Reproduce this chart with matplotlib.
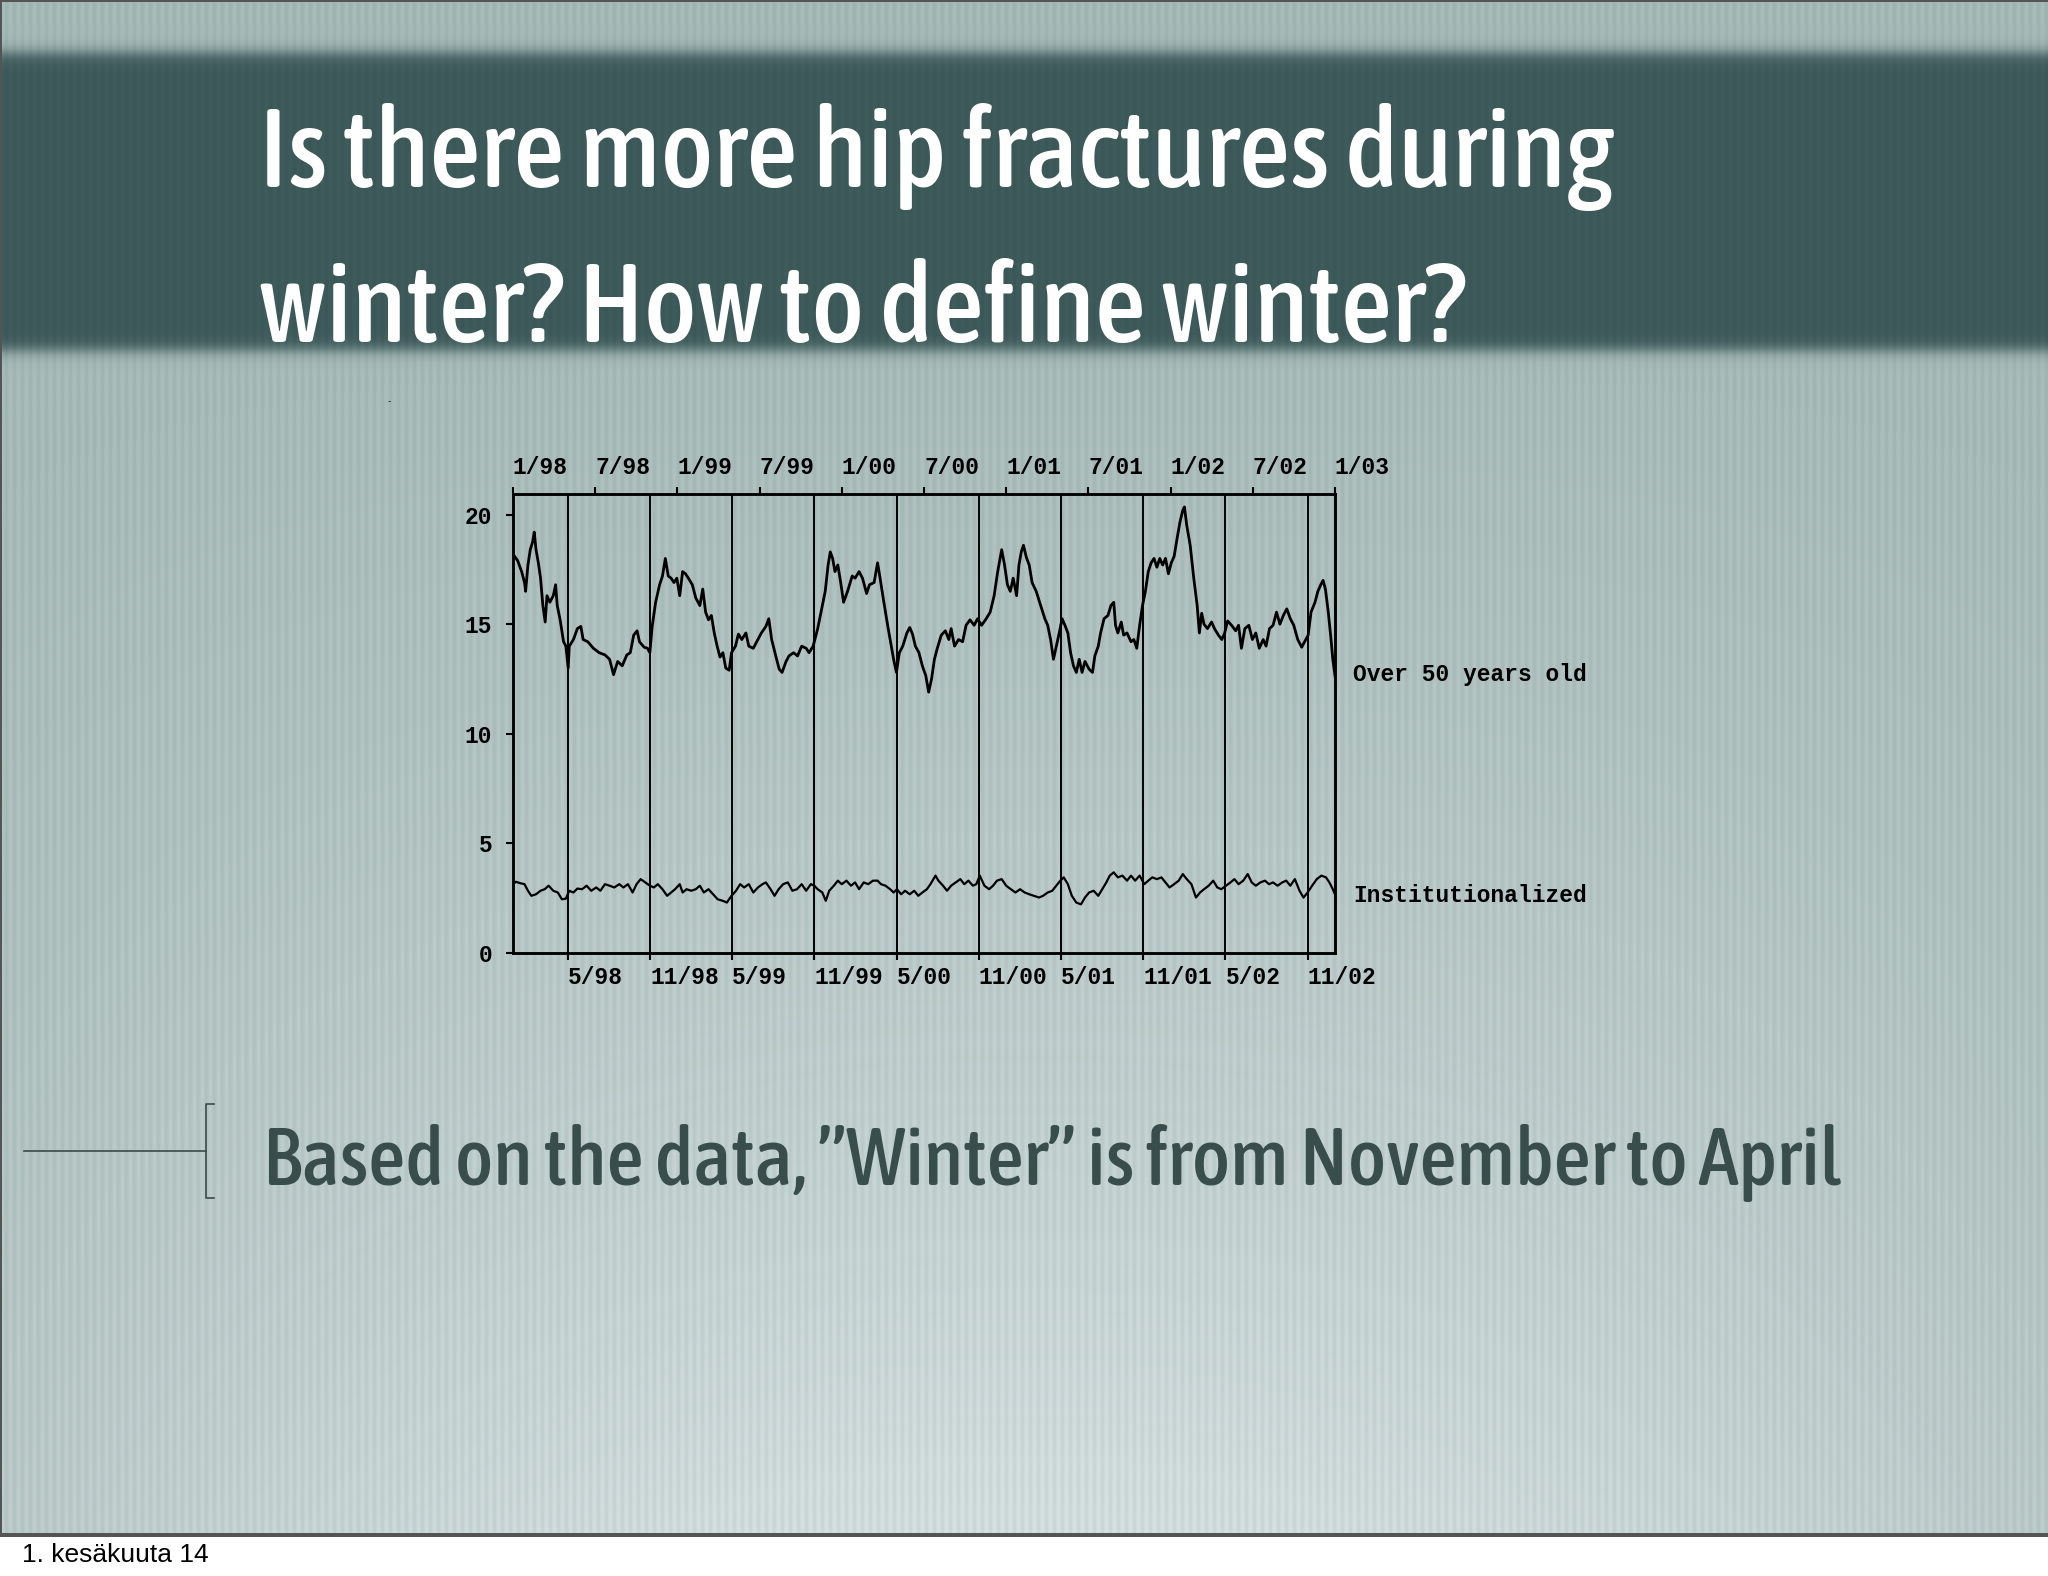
import numpy as np
import matplotlib
matplotlib.use("Agg")
import matplotlib.pyplot as plt
from matplotlib import font_manager as fm

# months counted from 1/98, daily rate of hip fractures
over50_month = [
    0.00, 0.34, 0.63, 0.84, 0.92, 1.09, 1.26, 1.43, 1.55, 1.68,
    1.85, 2.01, 2.18, 2.35, 2.48, 2.69, 2.94, 3.11, 3.23, 3.44,
    3.69, 3.86, 4.03, 4.11, 4.41, 4.70, 4.95, 5.12, 5.46, 5.87,
    6.29, 6.71, 7.05, 7.34, 7.64, 7.97, 8.31, 8.56, 8.81, 9.06,
    9.23, 9.57, 9.82, 9.99, 10.16, 10.41, 10.70, 10.91, 11.12, 11.33,
    11.54, 11.75, 11.96, 12.17, 12.38, 12.59, 12.80, 13.09, 13.34, 13.64,
    13.85, 14.06, 14.27, 14.48, 14.69, 14.90, 15.11, 15.32, 15.53, 15.78,
    15.95, 16.24, 16.45, 16.70, 17.00, 17.21, 17.54, 17.83, 18.13, 18.46,
    18.67, 18.88, 19.14, 19.43, 19.64, 19.93, 20.14, 20.48, 20.77, 21.07,
    21.40, 21.61, 21.91, 22.24, 22.58, 22.79, 23.00, 23.16, 23.33, 23.50,
    23.71, 23.92, 24.13, 24.42, 24.76, 24.97, 25.26, 25.51, 25.81, 26.02,
    26.36, 26.61, 26.77, 27.07, 27.36, 27.61, 27.78, 27.99, 28.20, 28.45,
    28.75, 28.96, 29.16, 29.37, 29.63, 29.88, 30.13, 30.34, 30.55, 30.76,
    30.97, 31.26, 31.56, 31.81, 31.98, 32.23, 32.52, 32.82, 33.07, 33.36,
    33.66, 33.91, 34.20, 34.49, 34.83, 35.12, 35.38, 35.67, 35.88, 36.09,
    36.30, 36.51, 36.76, 36.93, 37.10, 37.26, 37.47, 37.68, 37.89, 38.19,
    38.52, 38.82, 39.03, 39.24, 39.45, 39.66, 39.87, 40.08, 40.29, 40.50,
    40.70, 40.91, 41.12, 41.33, 41.54, 41.75, 42.05, 42.30, 42.47, 42.72,
    42.89, 43.14, 43.43, 43.64, 43.85, 43.98, 44.15, 44.40, 44.57, 44.82,
    45.11, 45.32, 45.53, 45.74, 45.95, 46.16, 46.37, 46.58, 46.79, 47.00,
    47.21, 47.42, 47.63, 47.84, 48.05, 48.26, 48.47, 48.68, 48.89, 49.01,
    49.18, 49.43, 49.69, 49.94, 50.10, 50.27, 50.44, 50.69, 50.99, 51.20,
    51.49, 51.74, 51.95, 52.16, 52.45, 52.75, 52.96, 53.17, 53.42, 53.71,
    53.97, 54.22, 54.47, 54.76, 54.97, 55.22, 55.48, 55.73, 55.98, 56.23,
    56.48, 56.74, 56.99, 57.28, 57.57, 57.78, 58.04, 58.25, 58.54, 58.75,
    58.96, 59.13, 59.30, 59.51, 59.68, 59.84, 60.00]
over50_rate = [
    18.2, 17.9, 17.4, 16.9, 16.5, 17.7, 18.4, 18.75, 19.2, 18.4,
    17.8, 17.1, 15.85, 15.1, 16.3, 16.0, 16.3, 16.8, 15.85, 15.2,
    14.2, 14.0, 13.0, 14.0, 14.3, 14.8, 14.9, 14.3, 14.2, 13.9,
    13.7, 13.6, 13.4, 12.7, 13.3, 13.1, 13.6, 13.7, 14.5, 14.7,
    14.2, 13.95, 13.9, 13.7, 14.9, 16.0, 16.8, 17.2, 18.0, 17.2,
    17.1, 16.9, 17.1, 16.3, 17.4, 17.3, 17.1, 16.8, 16.2, 15.85,
    16.6, 15.55, 15.2, 15.4, 14.6, 14.0, 13.5, 13.7, 13.0, 12.9,
    13.7, 14.0, 14.55, 14.3, 14.6, 14.0, 13.9, 14.25, 14.6, 14.9,
    15.25, 14.3, 13.65, 12.95, 12.8, 13.3, 13.55, 13.7, 13.55, 14.0,
    13.9, 13.7, 14.0, 14.8, 15.85, 16.5, 17.7, 18.3, 18.0, 17.4,
    17.7, 16.9, 16.0, 16.5, 17.2, 17.1, 17.4, 17.1, 16.4, 16.8,
    16.9, 17.8, 17.2, 16.0, 14.9, 14.0, 13.4, 12.8, 13.7, 14.0,
    14.6, 14.85, 14.55, 14.0, 13.7, 13.1, 12.65, 11.9, 12.5, 13.4,
    13.9, 14.5, 14.7, 14.3, 14.8, 14.0, 14.3, 14.2, 14.95, 15.2,
    14.95, 15.25, 14.95, 15.2, 15.55, 16.3, 17.4, 18.4, 17.7, 16.8,
    16.5, 17.1, 16.3, 17.7, 18.3, 18.6, 18.05, 17.7, 16.9, 16.5,
    15.85, 15.25, 14.95, 14.3, 13.4, 14.0, 14.6, 15.25, 14.95, 14.6,
    13.7, 13.1, 12.8, 13.4, 12.8, 13.3, 12.95, 12.8, 13.55, 14.0,
    14.6, 15.25, 15.4, 15.85, 16.0, 14.95, 14.6, 15.1, 14.5, 14.6,
    14.2, 14.3, 13.9, 14.95, 15.85, 16.5, 17.4, 17.8, 18.0, 17.6,
    18.0, 17.7, 18.0, 17.3, 17.8, 18.1, 18.9, 19.65, 20.2, 20.35,
    19.5, 18.6, 17.1, 15.85, 14.6, 15.5, 15.0, 14.8, 15.1, 14.8,
    14.5, 14.3, 14.6, 15.15, 14.95, 14.7, 14.95, 13.9, 14.8, 14.95,
    14.3, 14.6, 13.9, 14.3, 14.0, 14.8, 14.95, 15.55, 15.0, 15.4,
    15.7, 15.25, 14.95, 14.3, 13.95, 14.2, 14.5, 15.55, 16.0, 16.5,
    16.8, 17.0, 16.6, 15.55, 14.5, 13.4, 12.65]

inst_month = [
    0.00, 0.21, 0.50, 0.84, 1.09, 1.34, 1.68, 2.01, 2.31, 2.60,
    2.94, 3.27, 3.57, 3.86, 4.11, 4.41, 4.70, 5.04, 5.37, 5.71,
    6.08, 6.38, 6.71, 7.05, 7.39, 7.76, 8.06, 8.39, 8.73, 9.02,
    9.32, 9.65, 9.99, 10.28, 10.57, 10.91, 11.25, 11.54, 11.83, 12.17,
    12.38, 12.67, 13.01, 13.34, 13.64, 13.93, 14.27, 14.60, 14.94, 15.32,
    15.61, 15.95, 16.28, 16.58, 16.87, 17.21, 17.54, 17.88, 18.21, 18.46,
    18.80, 19.09, 19.39, 19.72, 20.06, 20.39, 20.73, 21.07, 21.40, 21.74,
    21.99, 22.24, 22.58, 22.83, 23.08, 23.42, 23.71, 24.00, 24.34, 24.67,
    24.97, 25.26, 25.60, 25.93, 26.27, 26.61, 26.86, 27.19, 27.53, 27.78,
    28.03, 28.33, 28.62, 28.96, 29.29, 29.58, 29.88, 30.21, 30.47, 30.84,
    31.05, 31.39, 31.68, 31.98, 32.31, 32.65, 32.94, 33.24, 33.57, 33.82,
    34.07, 34.41, 34.75, 35.04, 35.33, 35.67, 36.00, 36.34, 36.68, 37.01,
    37.35, 37.68, 38.02, 38.40, 38.69, 39.03, 39.36, 39.66, 39.95, 40.20,
    40.50, 40.79, 41.12, 41.46, 41.75, 42.05, 42.38, 42.72, 43.01, 43.31,
    43.56, 43.85, 44.15, 44.48, 44.82, 45.11, 45.41, 45.74, 46.08, 46.37,
    46.66, 47.00, 47.33, 47.63, 47.92, 48.26, 48.59, 48.89, 49.18, 49.52,
    49.85, 50.15, 50.44, 50.78, 51.11, 51.41, 51.70, 52.04, 52.37, 52.66,
    52.96, 53.30, 53.63, 53.92, 54.22, 54.55, 54.89, 55.18, 55.48, 55.81,
    56.15, 56.44, 56.74, 57.07, 57.41, 57.70, 58.00, 58.33, 58.67, 59.01,
    59.34, 59.59, 59.84, 60.00]
inst_rate = [
    3.14, 3.25, 3.19, 3.14, 2.84, 2.61, 2.68, 2.84, 2.91, 3.07,
    2.84, 2.76, 2.45, 2.48, 2.84, 2.76, 2.94, 2.91, 3.07, 2.84,
    2.99, 2.84, 3.14, 3.07, 2.99, 3.14, 2.99, 3.14, 2.76, 3.14,
    3.37, 3.22, 3.07, 2.99, 3.14, 2.91, 2.61, 2.76, 2.91, 3.14,
    2.76, 2.91, 2.84, 2.91, 3.07, 2.76, 2.91, 2.68, 2.45, 2.38,
    2.30, 2.61, 2.84, 3.14, 2.99, 3.14, 2.76, 2.99, 3.14, 3.22,
    2.91, 2.61, 2.91, 3.14, 3.22, 2.84, 2.91, 3.14, 2.84, 3.14,
    3.07, 2.91, 2.76, 2.38, 2.84, 3.07, 3.30, 3.14, 3.30, 3.07,
    3.22, 2.91, 3.22, 3.14, 3.30, 3.30, 3.14, 3.07, 2.91, 2.76,
    2.91, 2.68, 2.84, 2.68, 2.84, 2.61, 2.76, 2.91, 3.14, 3.53,
    3.30, 3.07, 2.84, 3.07, 3.22, 3.37, 3.14, 3.30, 3.07, 3.14,
    3.53, 3.07, 2.91, 3.07, 3.30, 3.37, 3.07, 2.91, 2.76, 2.91,
    2.76, 2.68, 2.61, 2.53, 2.61, 2.76, 2.84, 3.07, 3.30, 3.45,
    3.14, 2.61, 2.30, 2.22, 2.53, 2.76, 2.84, 2.61, 2.91, 3.22,
    3.53, 3.68, 3.45, 3.53, 3.30, 3.53, 3.30, 3.53, 3.14, 3.30,
    3.45, 3.37, 3.45, 3.22, 2.99, 3.14, 3.30, 3.60, 3.37, 3.14,
    2.53, 2.76, 2.91, 3.07, 3.30, 2.99, 2.91, 3.07, 3.22, 3.37,
    3.14, 3.30, 3.60, 3.22, 3.07, 3.22, 3.30, 3.14, 3.22, 3.07,
    3.22, 3.30, 3.07, 3.37, 2.84, 2.53, 2.76, 3.07, 3.37, 3.53,
    3.45, 3.22, 2.91, 2.68]

top_ticks = [0, 6, 12, 18, 24, 30, 36, 42, 48, 54, 60]
top_labels = ["1/98", "7/98", "1/99", "7/99", "1/00", "7/00",
              "1/01", "7/01", "1/02", "7/02", "1/03"]
season_ticks = [4, 10, 16, 22, 28, 34, 40, 46, 52, 58]
season_labels = ["5/98", "11/98", "5/99", "11/99", "5/00",
                 "11/00", "5/01", "11/01", "5/02", "11/02"]
y_ticks = [0, 5, 10, 15, 20]

title_lines = ["Is there more hip fractures during", "winter? How to define winter?"]
bottom_text = "Based on the data, \u201dWinter\u201d is from November to April"
footer_text = "1. kes\u00e4kuuta 14"


def pick_condensed():
    # look for a narrow / condensed sans face among the installed fonts
    good = []
    for f in fm.fontManager.ttflist:
        nm = f.name.lower()
        narrow = ("narrow" in nm or "condensed" in nm or
                  str(f.stretch) in ("condensed", "semi-condensed", "extra-condensed", "ultra-condensed"))
        if not narrow or "mono" in nm or "serif" in nm and "sans" not in nm:
            continue
        if f.style != "normal":
            continue
        w = f.weight if isinstance(f.weight, int) else 400
        good.append((abs(w - 500), f.fname))
    if good:
        good.sort()
        return fm.FontProperties(fname=good[0][1])
    return fm.FontProperties(family="DejaVu Sans")


W, H = 2048, 1576
fig = plt.figure(figsize=(W / 100, H / 100), dpi=100)

# slide background: soft gradient, vertical stripes, dark title band
u = np.arange(W) / W
v = np.arange(H) / H
light = np.clip((v[:, None] - 0.12) / 0.88, 0, 1) ** 1.3 * (1 - 2.2 * (u[None, :] - 0.5) ** 2)
light = np.clip(light, 0, 1)
dark_c = np.array([0.64, 0.72, 0.71])
light_c = np.array([0.83, 0.87, 0.875])
img = dark_c + (light_c - dark_c) * light[..., None]
yy = np.arange(H)[:, None]
band = 1 / (1 + np.exp(-(yy - 52) / 4.0)) * 1 / (1 + np.exp((yy - 350) / 4.0))
band_c = np.array([0.24, 0.35, 0.35])
img = img * (1 - band[..., None]) + band_c * band[..., None]
stripes = 1 + 0.028 * np.sin(2 * np.pi * np.arange(W) / 8.0)
img = img * stripes[None, :, None]
img[1537:] = 1.0
img[1533:1537] = 0.33
img[:1537, 0:2] = 0.33
img[0:2] = 0.33
img = np.clip(img, 0, 1)

bg = fig.add_axes([0, 0, 1, 1])
bg.imshow(img, extent=(0, W, H, 0), aspect="auto", interpolation="nearest")
bg.set_xlim(0, W)
bg.set_ylim(H, 0)
bg.axis("off")

cond = pick_condensed()
t1 = bg.text(259, 187, title_lines[0], color="white", fontproperties=cond,
             va="baseline", ha="left")
t2 = bg.text(259, 342, title_lines[1], color="white", fontproperties=cond,
             va="baseline", ha="left")
t3 = bg.text(263, 1185, bottom_text, color="#3a4d4d", fontproperties=cond,
             va="baseline", ha="left")
for t in (t1, t2, t3):
    t.set_fontsize(80)

# scale the condensed texts to the widths on the slide
fig.canvas.draw()
r = fig.canvas.get_renderer()
s = 1357 / t1.get_window_extent(r).width
t1.set_fontsize(80 * s)
t2.set_fontsize(80 * s)
t3.set_fontsize(80 * 1580 / t3.get_window_extent(r).width)

# bracket decoration
bc = "#3b4b4b"
bg.plot([24, 206], [1151, 1151], color=bc, lw=1.2)
bg.plot([214, 206, 206, 214], [1104, 1104, 1198, 1198], color=bc, lw=1.2)
bg.text(389, 401, "-", fontsize=7, color="#333333", ha="center", va="center")

bg.text(22, 1555, footer_text, fontsize=19, family=["Liberation Sans", "DejaVu Sans"],
        color="black", va="center", ha="left")

# the chart
mono = ["Liberation Mono", "DejaVu Sans Mono"]
fs = 16.5
ax = fig.add_axes([513 / W, 1 - 953 / H, (1335 - 513) / W, (953 - 494) / H])
ax.patch.set_alpha(0)
ax.plot(over50_month, over50_rate, color="black", lw=2.0)
ax.plot(inst_month, inst_rate, color="black", lw=1.6)
for m in season_ticks:
    ax.axvline(m, color="black", lw=1.4)
ax.set_xlim(0, 60)
ax.set_ylim(0, 20.94)
for sp in ax.spines.values():
    sp.set_linewidth(1.8)

ax.set_yticks(y_ticks)
ax.set_yticklabels([str(t) for t in y_ticks], family=mono, fontweight="bold", fontsize=fs)
ax.tick_params(axis="y", direction="out", length=5, width=1.5, pad=10)
ax.set_xticks(season_ticks)
ax.set_xticklabels(season_labels, family=mono, fontweight="bold", fontsize=fs, ha="left")
ax.tick_params(axis="x", direction="out", length=5, width=1.5, pad=4)

ax2 = ax.twiny()
ax2.set_xlim(0, 60)
ax2.set_xticks(top_ticks)
ax2.set_xticklabels(top_labels, family=mono, fontweight="bold", fontsize=fs, ha="left")
ax2.tick_params(axis="x", direction="out", length=5, width=1.5, pad=6)
for sp in ax2.spines.values():
    sp.set_linewidth(1.8)

ax.text(61.3, 12.7, "Over 50 years old", family=mono, fontweight="bold", fontsize=fs,
        va="center", ha="left", clip_on=False)
ax.text(61.3, 2.64, "Institutionalized", family=mono, fontweight="bold", fontsize=fs,
        va="center", ha="left", clip_on=False)

fig.savefig("out.png", dpi=100)
